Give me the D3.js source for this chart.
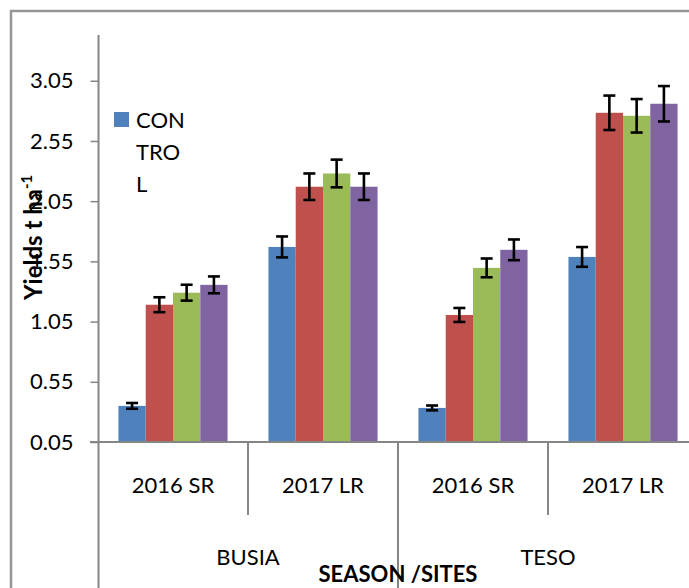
<!DOCTYPE html>
<html>
<head>
<meta charset="utf-8">
<script src="https://cdn.jsdelivr.net/npm/d3@7/dist/d3.min.js"></script>
<style>
  html, body { margin: 0; padding: 0; background: #fff; }
  svg { display: block; }
  text { font-family: Lato, "Open Sans", "Liberation Sans", sans-serif; fill: #000; }
</style>
</head>
<body>
<svg id="chart" width="689" height="588"></svg>
<script>
// ---- data ----
const sites = ["BUSIA", "TESO"];
const seasons = ["2016 SR", "2017 LR"];
const categories = ["BUSIA|2016 SR", "BUSIA|2017 LR", "TESO|2016 SR", "TESO|2017 LR"];
const seriesNames = ["CONTROL", "T1", "T2", "T3"];
const seriesColors = ["#4F81BD", "#C0504D", "#9BBB59", "#8064A2"];
const controlValues = [0.35, 1.67, 0.333, 1.587];
const t1Values      = [1.19, 2.17, 1.105, 2.784];
const t2Values      = [1.29, 2.28, 1.496, 2.759];
const t3Values      = [1.355, 2.17, 1.646, 2.859];
const controlErr = [0.024, 0.087, 0.02, 0.082];
const t1Err      = [0.062, 0.11, 0.058, 0.143];
const t2Err      = [0.066, 0.115, 0.078, 0.139];
const t3Err      = [0.07, 0.11, 0.086, 0.147];
const yTicks = [0.05, 0.55, 1.05, 1.55, 2.05, 2.55, 3.05];
const yMin = 0.05, yMax = 3.43;

const seriesValues = [controlValues, t1Values, t2Values, t3Values];
const seriesErrs = [controlErr, t1Err, t2Err, t3Err];

const rows = [];
categories.forEach((c, ci) => {
  seriesNames.forEach((s, si) => {
    rows.push({cat: c, series: s, si, value: seriesValues[si][ci], err: seriesErrs[si][ci]});
  });
});

const svg = d3.select("#chart");
const axisColor = "#868686";

// outer chart border (cropped at right/bottom)
svg.append("rect")
  .attr("x", 11).attr("y", 11).attr("width", 720).attr("height", 620)
  .attr("fill", "none").attr("stroke", "#969696").attr("stroke-width", 2.5);

const x = d3.scaleBand().domain(categories).range([98, 698]).paddingInner(0).paddingOuter(0);
const xs = d3.scaleBand().domain(seriesNames).range([0, x.bandwidth()]).paddingInner(0).paddingOuter(0.75);
const y = d3.scaleLinear().domain([yMin, yMax]).range([442, 35]);

// bars
svg.append("g").selectAll("rect").data(rows).join("rect")
  .attr("x", d => x(d.cat) + xs(d.series))
  .attr("width", xs.bandwidth())
  .attr("y", d => y(d.value))
  .attr("height", d => y(yMin) - y(d.value))
  .attr("fill", d => seriesColors[d.si]);

// error bars
const eb = svg.append("g").attr("stroke", "#000").attr("stroke-width", 2.6);
const cx = d => x(d.cat) + xs(d.series) + xs.bandwidth() / 2;
eb.selectAll("line.v").data(rows).join("line").attr("class", "v")
  .attr("x1", cx).attr("x2", cx)
  .attr("y1", d => y(d.value + d.err)).attr("y2", d => y(d.value - d.err));
eb.selectAll("line.t").data(rows).join("line").attr("class", "t")
  .attr("x1", d => cx(d) - 6).attr("x2", d => cx(d) + 6)
  .attr("y1", d => y(d.value + d.err)).attr("y2", d => y(d.value + d.err));
eb.selectAll("line.b").data(rows).join("line").attr("class", "b")
  .attr("x1", d => cx(d) - 6).attr("x2", d => cx(d) + 6)
  .attr("y1", d => y(d.value - d.err)).attr("y2", d => y(d.value - d.err));

// y axis
const yAxis = d3.axisLeft(y).tickValues(yTicks).tickFormat(d3.format(".2f")).tickSize(8).tickPadding(17);
const gy = svg.append("g").attr("transform", "translate(98.5,0)").call(yAxis);
gy.select(".domain").remove();
gy.selectAll(".tick line").attr("stroke", axisColor).attr("stroke-width", 1.5);
gy.selectAll(".tick text").attr("font-size", 22).attr("font-family", "Lato, 'Open Sans', sans-serif").attr("fill", "#000");
svg.append("line").attr("x1", 98.5).attr("x2", 98.5).attr("y1", y(yMax)).attr("y2", 600)
  .attr("stroke", axisColor).attr("stroke-width", 2);

// x axis line
svg.append("line").attr("x1", 90).attr("x2", 700).attr("y1", y(yMin)).attr("y2", y(yMin))
  .attr("stroke", axisColor).attr("stroke-width", 2);

// category dividers
categories.forEach((c, i) => {
  if (i === 0) return;
  const isSiteBoundary = c.split("|")[0] !== categories[i - 1].split("|")[0];
  svg.append("line").attr("x1", x(c)).attr("x2", x(c))
    .attr("y1", y(yMin)).attr("y2", isSiteBoundary ? 600 : 515)
    .attr("stroke", axisColor).attr("stroke-width", 2);
});

// season labels
svg.append("g").selectAll("text").data(categories).join("text")
  .attr("x", d => x(d) + x.bandwidth() / 2)
  .attr("y", 493)
  .attr("text-anchor", "middle").attr("font-size", 22)
  .text(d => d.split("|")[1]);

// site labels
svg.append("g").selectAll("text").data(sites).join("text")
  .attr("x", s => {
    const cs = categories.filter(c => c.startsWith(s + "|"));
    return (x(cs[0]) + x(cs[cs.length - 1]) + x.bandwidth()) / 2;
  })
  .attr("y", 565)
  .attr("text-anchor", "middle").attr("font-size", 22)
  .text(s => s);

// x title
svg.append("text").attr("x", (x.range()[0] + x.range()[1]) / 2).attr("y", 582)
  .attr("text-anchor", "middle").attr("font-size", 22).attr("font-weight", "bold")
  .text("SEASON /SITES");

// y title
const yt = svg.append("text").attr("transform", "translate(42,300) rotate(-90)")
  .attr("text-anchor", "start").attr("font-size", 24).attr("font-weight", "bold");
yt.append("tspan").text("Yields t ha");
yt.append("tspan").attr("dy", -10).attr("font-size", 15).text("-1");

// legend (only first entry visible, wrapped)
const lg = svg.append("g");
lg.append("rect").attr("x", 114).attr("y", 112).attr("width", 15).attr("height", 15).attr("fill", seriesColors[0]);
const legendLines = ["CON", "TRO", "L"];
lg.selectAll("text").data(legendLines).join("text")
  .attr("x", 136).attr("y", (d, i) => 128 + i * 32)
  .attr("font-size", 22)
  .text(d => d);
</script>
</body>
</html>
